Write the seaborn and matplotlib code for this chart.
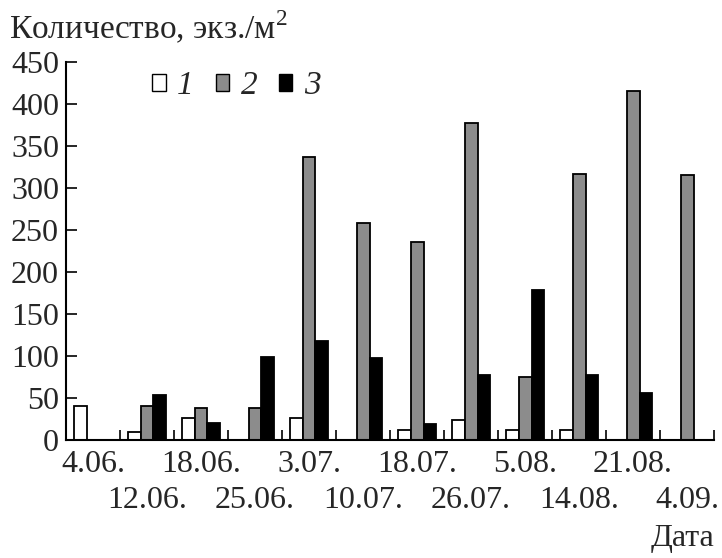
import numpy as np
import pandas as pd
import matplotlib
matplotlib.use("Agg")
import matplotlib.pyplot as plt
import seaborn as sns
from matplotlib.patches import Patch

# Даты отбора проб и численность по трём группам (экз./м2)
dates = ["4.06.", "12.06.", "18.06.", "25.06.", "3.07.", "10.07.",
         "18.07.", "26.07.", "5.08.", "14.08.", "21.08.", "4.09."]
series_names = ["1", "2", "3"]
vals_1 = [40, 10, 26, 0, 26, 0, 12, 24, 12, 12, 0, 0]
vals_2 = [0, 40, 38, 38, 337, 258, 236, 377, 75, 317, 415, 315]
vals_3 = [0, 53, 20, 99, 118, 98, 19, 77, 178, 77, 56, 0]
y_ticks = [0, 50, 100, 150, 200, 250, 300, 350, 400, 450]

colors = ["white", "#8c8c8c", "black"]

df = pd.DataFrame({
    "date": dates * 3,
    "series": [s for s in series_names for _ in dates],
    "value": vals_1 + vals_2 + vals_3,
})

sns.set_style("white")
plt.rcParams["font.family"] = ["Liberation Serif", "DejaVu Serif"]
plt.rcParams["mathtext.fontset"] = "custom"
plt.rcParams["mathtext.rm"] = "Liberation Serif"

fig = plt.figure(figsize=(7.22, 5.58), dpi=100)
ax = fig.add_axes([0.0914, 0.2115, 0.8976, 0.6775])

sns.barplot(data=df, x="date", y="value", hue="series", order=dates,
            hue_order=series_names, palette=colors, edgecolor="black",
            linewidth=1.3, width=0.72, ax=ax, legend=False)

ax.set_xlim(-0.5, 11.5)
ax.set_ylim(0, 450)
ax.set_yticks(y_ticks)
ax.set_yticklabels([str(t) for t in y_ticks], fontsize=23)
ax.tick_params(axis="y", direction="in", length=8, width=1.4, pad=5, left=True)

# подписи дат в два ряда
ax.set_xticks(range(len(dates)))
ax.set_xticklabels(dates, fontsize=23)
ax.tick_params(axis="x", length=0, pad=7)
for i, tick in enumerate(ax.xaxis.get_major_ticks()):
    if i % 2 == 1:
        tick.set_pad(33)
ax.set_xticks(np.arange(len(dates)) + 0.5, minor=True)
ax.tick_params(axis="x", which="minor", direction="in", length=7, width=1.4, bottom=True)

for side in ["top", "right"]:
    ax.spines[side].set_visible(False)
for side in ["left", "bottom"]:
    ax.spines[side].set_color("black")
    ax.spines[side].set_linewidth(1.5)
ax.set_xlabel("")
ax.set_ylabel("")

handles = [Patch(facecolor=c, edgecolor="black", linewidth=1) for c in colors]
ax.legend(handles, series_names, loc="center left", bbox_to_anchor=(0.133, 0.937),
          ncol=3, frameon=False, handlelength=0.4, handleheight=0.4,
          handletextpad=0.35, columnspacing=0.65, borderpad=0, borderaxespad=0,
          prop={"family": "Liberation Serif", "style": "italic", "size": 24})

fig.text(0.012, 0.95, "Количество, экз./м$^2$", fontsize=24, va="center", ha="left")
fig.text(0.99, 0.022, "Дата", fontsize=23, va="baseline", ha="right")

fig.savefig("out.png", dpi=100)
